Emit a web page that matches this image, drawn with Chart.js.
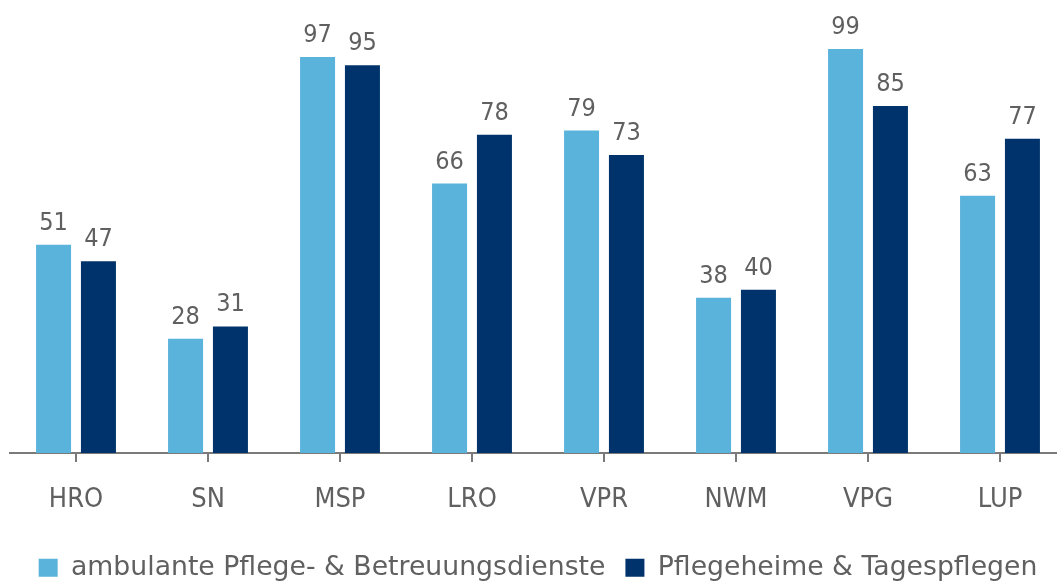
<!DOCTYPE html>
<html>
<head>
<meta charset="utf-8">
<script src="https://cdn.jsdelivr.net/npm/chart.js@4"></script>
<style>
  html, body { margin: 0; padding: 0; background: #fff; overflow: hidden; }
  .chart-box { width: 1066px; height: 582px; }
</style>
</head>
<body>
<div class="chart-box"><canvas id="chart"></canvas></div>
<script>
// Data
const districts = ['HRO', 'SN', 'MSP', 'LRO', 'VPR', 'NWM', 'VPG', 'LUP'];
const ambulant = [51, 28, 97, 66, 79, 38, 99, 63];
const heime = [47, 31, 95, 78, 73, 40, 85, 77];
const seriesNames = ['ambulante Pflege- & Betreuungsdienste', 'Pflegeheime & Tagespflegen'];

const textGray = '#606060';
const axisGray = '#7a7a7a';
const condensed = "'DejaVu Sans Condensed', 'Liberation Sans Narrow', 'DejaVu Sans', sans-serif";
const regular = "'DejaVu Sans', sans-serif";

// Value labels above each bar
const valueLabels = {
    id: 'valueLabels',
    afterDatasetsDraw(chart) {
        const ctx = chart.ctx;
        ctx.save();
        ctx.font = `25px ${condensed}`;
        ctx.fillStyle = textGray;
        ctx.textAlign = 'center';
        ctx.textBaseline = 'alphabetic';
        chart.data.datasets.forEach((ds, i) => {
            chart.getDatasetMeta(i).data.forEach((bar, j) => {
                ctx.fillText(ds.data[j], bar.x, bar.y - 15);
            });
        });
        ctx.restore();
    }
};

new Chart(document.getElementById('chart'), {
    type: 'bar',
    data: {
        labels: districts,
        datasets: [
            { label: seriesNames[0], data: ambulant, backgroundColor: '#5ab3db' },
            { label: seriesNames[1], data: heime, backgroundColor: '#00336b' }
        ]
    },
    options: {
        responsive: true,
        maintainAspectRatio: false,
        animation: false,
        datasets: {
            bar: { categoryPercentage: 0.68, barPercentage: 0.78 }
        },
        layout: { padding: { left: 10, right: 0, top: 0, bottom: -9 } },
        scales: {
            x: {
                grid: {
                    display: true,
                    offset: false,
                    drawOnChartArea: false,
                    drawTicks: true,
                    tickLength: 9,
                    tickWidth: 2,
                    tickColor: axisGray,
                    color: axisGray,
                    lineWidth: 2
                },
                border: { display: true, color: axisGray, width: 2 },
                ticks: {
                    color: textGray,
                    font: { family: condensed, size: 27 },
                    padding: 22
                },
                // pull the axis down a little, closer to the legend
                afterFit(scale) { scale.height -= 4; }
            },
            y: {
                display: false,
                min: 0,
                max: 111
            }
        },
        plugins: {
            legend: {
                position: 'bottom',
                labels: {
                    boxWidth: 19,
                    boxHeight: 18,
                    padding: 20,
                    color: textGray,
                    font: { family: regular, size: 26.7 }
                }
            },
            tooltip: { enabled: false }
        }
    },
    plugins: [valueLabels]
});
</script>
</body>
</html>
